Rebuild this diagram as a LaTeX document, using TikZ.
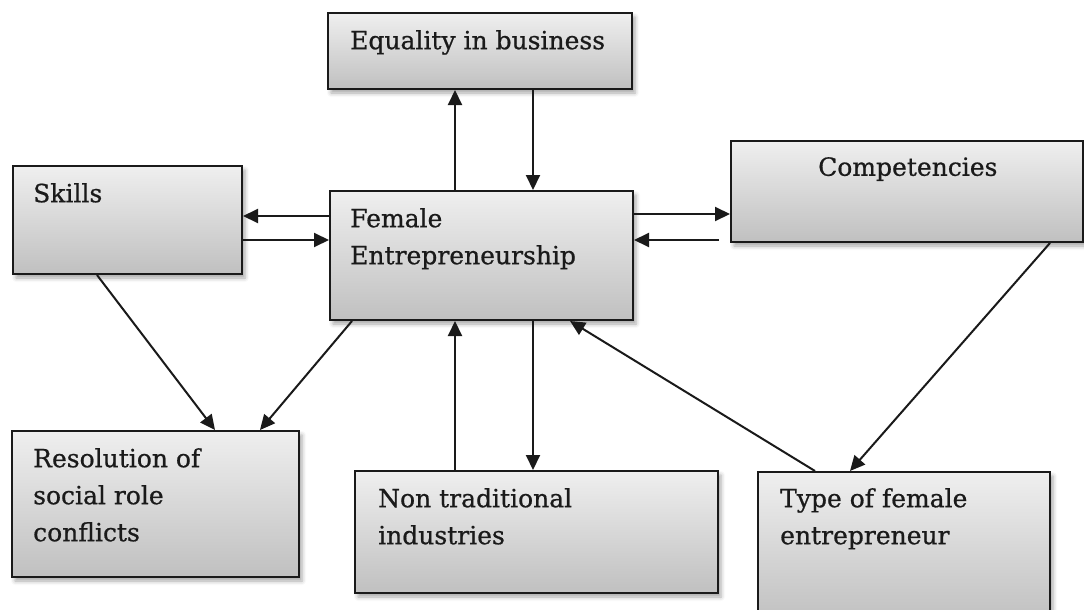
\documentclass[tikz,border=0pt]{standalone}
\usepackage{fontspec}
\setmainfont{DejaVu Serif}[FakeBold=0.7]
\usetikzlibrary{positioning, arrows.meta, shadows.blur}
\definecolor{boxTop}{HTML}{EFEFEF}
\definecolor{boxBottom}{HTML}{C0C0C0}
\definecolor{inkDark}{HTML}{1A1A1A}

\begin{document}
\begin{tikzpicture}[
  x=1pt, y=-1pt,
  every node/.style={font=\fontsize{25}{37}\selectfont, text=inkDark},
  factor/.style={
    rectangle, draw=inkDark, line width=2pt,
    top color=boxTop, bottom color=boxBottom,
    blur shadow={shadow xshift=3pt, shadow yshift=-4pt,
      shadow blur radius=4pt, shadow opacity=35},
    inner sep=0pt
  },
  caption/.style={anchor=north west, inner sep=0pt, align=left},
  flow/.style={draw=inkDark, line width=2pt,
    -{Triangle[length=15pt, width=14pt]}},
]
\useasboundingbox (0,0) rectangle (1084,610);

% === boxes ===
\node[factor, minimum width=304pt, minimum height=76pt]  (equality) at (480,51) {};
\node[factor, minimum width=229pt, minimum height=108pt] (skills)   at (127.5,220) {};
\node[factor, minimum width=303pt, minimum height=129pt] (female)   at (481.5,255.5) {};
\node[factor, minimum width=352pt, minimum height=101pt] (comp)     at (907,191.5) {};
\node[factor, minimum width=287pt, minimum height=146pt] (resol)    at (155.5,504) {};
\node[factor, minimum width=363pt, minimum height=122pt] (nontrad)  at (536.5,532) {};
\node[factor, minimum width=292pt, minimum height=150pt] (type)     at (904,547) {};

% === texts ===
\node[caption] (equality-txt) at (350,30) {Equality in business};
\node[caption] (skills-txt)   at (33,183)  {Skills};
\node[caption] (female-txt)   at (350,208) {Female\\Entrepreneurship};
\node[caption] (comp-txt)     at (818,157) {Competencies};
\node[caption] (resol-txt)    at (33,448)  {Resolution of\\social role\\conflicts};
\node[caption] (nontrad-txt)  at (378,488) {Non traditional\\industries};
\node[caption] (type-txt)     at (780,488) {Type of female\\entrepreneur};

% === up / down pairs ===
\draw[flow] ([xshift=-26.5pt]female.north) -- ([xshift=-26.5pt]female.north |- equality.south);
\draw[flow] ([xshift=51.5pt]female.north |- equality.south) -- ([xshift=51.5pt]female.north);
\draw[flow] ([xshift=-26.5pt]female.south |- nontrad.north) -- ([xshift=-26.5pt]female.south);
\draw[flow] ([xshift=51.5pt]female.south) -- ([xshift=51.5pt]female.south |- nontrad.north);

% === left / right pairs ===
\draw[flow] ([yshift=39.5pt]female.west) -- ([yshift=39.5pt]female.west -| skills.east);
\draw[flow] ([yshift=15.5pt]female.west -| skills.east) -- ([yshift=15.5pt]female.west);
\draw[flow] ([yshift=41.5pt]female.east) -- ([yshift=41.5pt]female.east -| comp.west);
\draw[flow, shorten <=11pt] ([yshift=15.5pt]female.east -| comp.west) -- ([yshift=15.5pt]female.east);

% === diagonals ===
\draw[flow] ([xshift=-30.5pt]skills.south) -- ([xshift=59.5pt]resol.north);
\draw[flow] ([xshift=-129.5pt]female.south) -- ([xshift=104.5pt]resol.north);
\draw[flow] ([xshift=-89pt]type.north) -- ([xshift=88.5pt]female.south);
\draw[flow] ([xshift=143pt]comp.south) -- ([xshift=-54pt]type.north);

\end{tikzpicture}
\end{document}
